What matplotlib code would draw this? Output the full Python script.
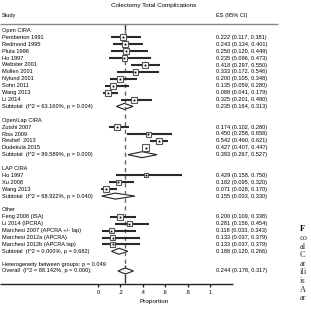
import matplotlib.pyplot as plt
from matplotlib.patches import Rectangle, Polygon

plt.rcParams['font.family'] = ['Liberation Sans', 'DejaVu Sans']

# data
groups = ['Open CIRA', 'Open/Lap CIRA', 'LAP CIRA', 'Other']
studies = [
    ['Pemberton 1991', 'Redmond 1995', 'Pluta 1996', 'Ho 1997', 'Webster 2001',
     'Mollen 2001', 'Nylund 2001', 'Sohn 2011', 'Wang 2013', 'Li 2014'],
    ['Zutshi 2007', 'Riss 2009', 'Reshef  2013', 'Dudekula 2015'],
    ['Ho 1997', 'Xu 2008', 'Wang 2013'],
    ['Feng 2008 (ISA)', 'Li 2014 (IPCRA)', 'Marchesi 2007 (APCRA +/- lap)',
     'Marchesi 2012a (APCRA)', 'Marchesi 2012b (APCRA lap)'],
]
es = [
    [0.222, 0.243, 0.250, 0.235, 0.418, 0.333, 0.200, 0.135, 0.088, 0.325],
    [0.174, 0.450, 0.542, 0.427],
    [0.429, 0.182, 0.071],
    [0.200, 0.281, 0.118, 0.133, 0.133],
]
lo = [
    [0.117, 0.134, 0.120, 0.096, 0.297, 0.172, 0.105, 0.059, 0.041, 0.201],
    [0.102, 0.258, 0.460, 0.407],
    [0.158, 0.095, 0.028],
    [0.109, 0.156, 0.033, 0.037, 0.037],
]
hi = [
    [0.381, 0.401, 0.449, 0.473, 0.550, 0.546, 0.348, 0.280, 0.179, 0.480],
    [0.280, 0.658, 0.621, 0.447],
    [0.750, 0.320, 0.170],
    [0.338, 0.454, 0.343, 0.379, 0.379],
]
box = [
    [6, 6, 5.5, 5.5, 6, 5.5, 6, 6, 6, 6],
    [6, 5, 6, 7],
    [4, 5.5, 6],
    [6, 5.5, 5, 5, 5],
]
sub_es = [0.235, 0.393, 0.155, 0.188]
sub_lo = [0.164, 0.267, 0.033, 0.120]
sub_hi = [0.313, 0.527, 0.330, 0.266]
sub_i2 = ['63.160%', '89.589%', '68.922%', '0.000%']
sub_p = ['0.004', '0.000', '0.040', '0.682']
overall = (0.244, 0.178, 0.317)
overall_txt = 'Overall  (I^2 = 88.142%, p = 0.000);'
het_txt = 'Heterogeneity between groups: p = 0.049'
ticks = [0, 0.2, 0.4, 0.6, 0.8, 1]
tick_labels = ['0', '.2', '.4', '.6', '.8', '1']
side_bits = ['co', 'al', 'C', 'ar', 'ili', 'is', 'A', 'ar']

fig = plt.figure(figsize=(3.11, 3.14), dpi=100)
ax = fig.add_axes([0, 0, 1, 1])
x0, unit = 98, 112
ax.set_xlim(-x0 / unit, (311 - x0) / unit)
ax.set_ylim(314, 0)
ax.axis('off')

fs = 4.1
xl = -0.855
xr = 1.055
lc = '#333333'
lw = 1.0

def rowy(r):
    return 30.5 + r * 6.9

def diamond(c, l, h, y):
    d = 3.0
    ax.add_patch(Polygon([(l, y), (c, y - d), (h, y), (c, y + d)], closed=True,
                         fill=False, edgecolor='#222222', lw=0.8))

ax.text(0.5, 6, 'Colectomy Total Complications', ha='center', va='center', fontsize=4.5)
ax.text(xl, 15.5, 'Study', ha='left', va='center', fontsize=fs)
ax.text(xr, 15.5, 'ES (95% CI)', ha='left', va='center', fontsize=fs)
ax.hlines(23.5, xl - 0.02, (278 - x0) / unit, color='#888888', lw=lw)

r = 0
for g in range(len(groups)):
    ax.text(xl, rowy(r), groups[g], ha='left', va='center', fontsize=fs)
    r += 1
    for i in range(len(studies[g])):
        y = rowy(r)
        ax.text(xl, y, studies[g][i], ha='left', va='center', fontsize=fs)
        ax.plot([lo[g][i], hi[g][i]], [y, y], color='#2a2a2a', lw=1.5,
                solid_capstyle='butt', zorder=2.5)
        s = box[g][i]
        ax.add_patch(Rectangle((es[g][i] - s / 2 / unit, y - s / 2), s / unit, s,
                               facecolor='white', edgecolor='#555555', lw=0.8, zorder=3))
        ax.plot(es[g][i], y, 's', color='black', ms=1.3, mew=0, zorder=4)
        ax.text(xr, y, '%.3f (%.3f, %.3f)' % (es[g][i], lo[g][i], hi[g][i]),
                ha='left', va='center', fontsize=fs)
        r += 1
    y = rowy(r)
    ax.text(xl, y, 'Subtotal  (I^2 = %s, p = %s)' % (sub_i2[g], sub_p[g]),
            ha='left', va='center', fontsize=fs)
    diamond(sub_es[g], sub_lo[g], sub_hi[g], y)
    ax.text(xr, y, '%.3f (%.3f, %.3f)' % (sub_es[g], sub_lo[g], sub_hi[g]),
            ha='left', va='center', fontsize=fs)
    r += 2

y_het = rowy(r - 0.1)
y_ov = rowy(r + 0.85)
ax.text(xl, y_het, het_txt, ha='left', va='center', fontsize=fs)
ax.text(xl, y_ov, overall_txt, ha='left', va='center', fontsize=fs)
diamond(overall[0], overall[1], overall[2], y_ov)
ax.text(xr, y_ov, '%.3f (%.3f, %.3f)' % overall, ha='left', va='center', fontsize=fs)

# line at overall estimate
ax.vlines(overall[0], 23.5, 30, color=lc, lw=lw, zorder=1)
ax.vlines(overall[0], 30, y_ov - 6, color='#666666', lw=lw,
          linestyles=(0, (3, 2.5)), zorder=1)
ax.vlines(overall[0], y_ov - 6, y_ov - 3, color=lc, lw=lw)
ax.vlines(overall[0], y_ov + 3, 283, color=lc, lw=lw)

# x axis
ax.hlines(283.5, xl - 0.02, (233 - x0) / unit, color='#222222', lw=lw)
for t, lab in zip(ticks, tick_labels):
    ax.vlines(t, 283.5, 287, color='#222222', lw=lw)
    ax.text(t, 292, lab, ha='center', va='center', fontsize=fs)
ax.text(0.5, 301, 'Proportion', ha='center', va='center', fontsize=4.6)

# clipped caption of the page on the right
ax.text((300 - x0) / unit, 229, 'F', ha='left', va='center', fontsize=6,
        family='Liberation Serif', fontweight='bold')
for k, s in enumerate(side_bits):
    ax.text((300 - x0) / unit, 238 + k * 8.6, s, ha='left', va='center',
            fontsize=6, family='Liberation Serif', color='#333333')

fig.savefig('out.png', dpi=100)
